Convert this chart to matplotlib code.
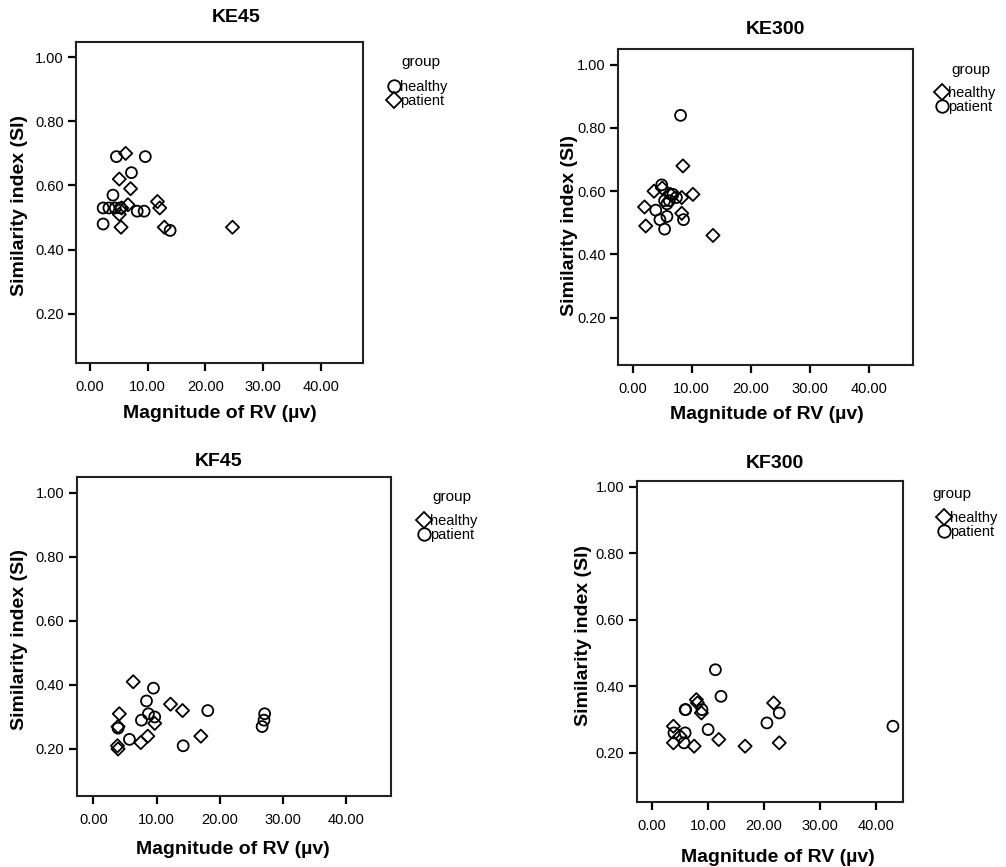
import matplotlib.pyplot as plt
from matplotlib.lines import Line2D

plt.rcParams['font.family'] = ['Liberation Sans', 'DejaVu Sans']

W, H = 1006, 867

# KE45 : in this panel healthy = circle, patient = diamond
ke45_healthy_x = [4.6, 9.6, 7.2, 4.0, 2.3, 3.3, 4.4, 5.3, 8.2, 9.4, 2.3, 13.9]
ke45_healthy_y = [0.69, 0.69, 0.64, 0.57, 0.53, 0.53, 0.53, 0.53, 0.52, 0.52, 0.48, 0.46]
ke45_patient_x = [6.2, 5.1, 7.05, 6.6, 11.7, 12.1, 5.5, 5.1, 5.4, 12.9, 24.7]
ke45_patient_y = [0.70, 0.62, 0.59, 0.54, 0.55, 0.53, 0.53, 0.51, 0.47, 0.47, 0.47]

# KE300 : healthy = diamond, patient = circle
ke300_healthy_x = [8.5, 3.6, 10.2, 8.3, 2.0, 8.3, 2.2, 13.6, 5.0, 6.4]
ke300_healthy_y = [0.68, 0.60, 0.59, 0.58, 0.55, 0.53, 0.49, 0.46, 0.61, 0.59]
ke300_patient_x = [8.1, 4.9, 6.8, 3.9, 5.4, 5.8, 6.2, 5.8, 4.6, 8.6, 5.4, 7.4]
ke300_patient_y = [0.84, 0.62, 0.59, 0.54, 0.57, 0.56, 0.57, 0.52, 0.51, 0.51, 0.48, 0.58]

# KF45
kf45_healthy_x = [6.3, 12.2, 14.1, 4.1, 9.7, 3.9, 8.6, 7.5, 3.8, 3.9, 17.0]
kf45_healthy_y = [0.41, 0.34, 0.32, 0.31, 0.28, 0.27, 0.24, 0.22, 0.21, 0.20, 0.24]
kf45_patient_x = [9.5, 8.4, 18.1, 8.7, 9.7, 7.6, 3.9, 5.7, 14.2, 27.1, 27.0, 26.7]
kf45_patient_y = [0.39, 0.35, 0.32, 0.31, 0.30, 0.29, 0.265, 0.23, 0.21, 0.31, 0.29, 0.27]

# KF300
kf300_healthy_x = [7.9, 8.8, 21.7, 3.8, 5.0, 3.8, 7.5, 11.9, 16.6, 22.7, 8.1]
kf300_healthy_y = [0.36, 0.32, 0.35, 0.28, 0.25, 0.23, 0.22, 0.24, 0.22, 0.23, 0.35]
kf300_patient_x = [11.3, 12.3, 5.9, 6.0, 8.9, 22.7, 20.5, 43.0, 10.0, 3.9, 5.9, 5.7]
kf300_patient_y = [0.45, 0.37, 0.33, 0.33, 0.33, 0.32, 0.29, 0.28, 0.27, 0.26, 0.26, 0.23]

xticks = [0, 10, 20, 30, 40]
yticks = [0.2, 0.4, 0.6, 0.8, 1.0]

# caixas em pixels: esquerda, direita, topo, base
paineis = [
    dict(nome='KE45', box=(76, 363, 42, 363), xlim=(-2.4, 47.3), ylim=(0.047, 1.047),
         hx=ke45_healthy_x, hy=ke45_healthy_y, px=ke45_patient_x, py=ke45_patient_y,
         hm='o', pm='D', titulo=(236, 17), xl=(220, 414), yl=(20, 205),
         grupo=(421, 62), marca=(394, 94)),
    dict(nome='KE300', box=(618, 913, 49, 365), xlim=(-2.5, 47.5), ylim=(0.05, 1.05),
         hx=ke300_healthy_x, hy=ke300_healthy_y, px=ke300_patient_x, py=ke300_patient_y,
         hm='D', pm='o', titulo=(775, 30), xl=(767, 415), yl=(569, 225),
         grupo=(971, 70), marca=(942, 100.5)),
    dict(nome='KF45', box=(77, 391, 477, 796), xlim=(-2.6, 47.1), ylim=(0.053, 1.05),
         hx=kf45_healthy_x, hy=kf45_healthy_y, px=kf45_patient_x, py=kf45_patient_y,
         hm='D', pm='o', titulo=(219, 461), xl=(233, 850), yl=(20, 640),
         grupo=(452, 497), marca=(424, 528)),
    dict(nome='KF300', box=(637, 903, 481, 802), xlim=(-2.7, 44.8), ylim=(0.052, 1.018),
         hx=kf300_healthy_x, hy=kf300_healthy_y, px=kf300_patient_x, py=kf300_patient_y,
         hm='D', pm='o', titulo=(775, 464), xl=(778, 857), yl=(583, 635),
         grupo=(952, 494), marca=(944, 525)),
]

tam = {'o': 62, 'D': 45}
fs_leg = 10.5

fig = plt.figure(figsize=(W / 100, H / 100), dpi=100)

for p in paineis:
    l, r, t, b = p['box']
    ax = fig.add_axes([l / W, 1 - b / H, (r - l) / W, (b - t) / H])
    ax.scatter(p['hx'], p['hy'], marker=p['hm'], s=tam[p['hm']],
               facecolors='none', edgecolors='black', linewidths=1.3)
    ax.scatter(p['px'], p['py'], marker=p['pm'], s=tam[p['pm']],
               facecolors='none', edgecolors='black', linewidths=1.3)
    ax.set_xlim(p['xlim'])
    ax.set_ylim(p['ylim'])
    ax.set_xticks(xticks)
    ax.set_xticklabels(['%.2f' % v for v in xticks])
    ax.set_yticks(yticks)
    ax.set_yticklabels(['%.2f' % v for v in yticks])
    ax.tick_params(axis='both', direction='out', length=6, width=1.6,
                   labelsize=10.5, colors='black', pad=3)
    ax.tick_params(axis='x', pad=6)
    for s in ax.spines.values():
        s.set_linewidth(1.5)
        s.set_color('#222222')

    fig.text(p['titulo'][0] / W, 1 - p['titulo'][1] / H, p['nome'],
             ha='center', va='center', fontsize=14, fontweight='bold')
    fig.text(p['xl'][0] / W, 1 - p['xl'][1] / H, 'Magnitude of RV (µv)',
             ha='center', va='center', fontsize=14, fontweight='bold')
    fig.text(p['yl'][0] / W, 1 - p['yl'][1] / H, 'Similarity index (SI)',
             ha='center', va='center', rotation=90, fontsize=14, fontweight='bold')

    # legenda: titulo "group" separado, entradas logo abaixo
    fig.text(p['grupo'][0] / W, 1 - p['grupo'][1] / H, 'group',
             ha='center', va='center', fontsize=11)
    alca = [Line2D([], [], ls='none', marker=p['hm'], mfc='none', mec='black',
                   mew=1.3, ms=9 if p['hm'] == 'o' else 8),
            Line2D([], [], ls='none', marker=p['pm'], mfc='none', mec='black',
                   mew=1.3, ms=9 if p['pm'] == 'o' else 8)]
    meio = 0.4 * fs_leg * 100 / 72
    fig.legend(alca, ['healthy', 'patient'], loc='center left',
               bbox_to_anchor=((p['marca'][0] - meio) / W, 1 - p['marca'][1] / H),
               frameon=False, fontsize=fs_leg, borderpad=0, borderaxespad=0,
               handletextpad=0.0, handlelength=0.8, labelspacing=0.0)

fig.savefig('out.png', dpi=100)
